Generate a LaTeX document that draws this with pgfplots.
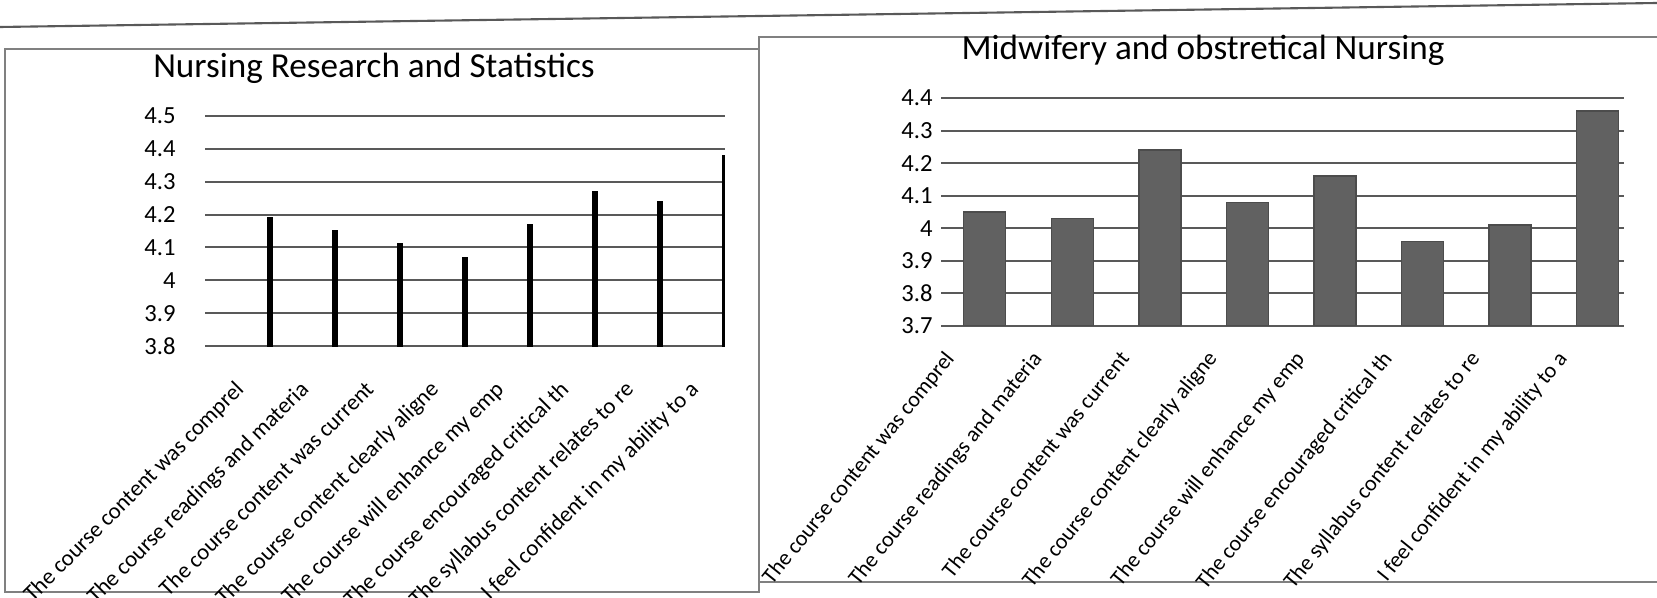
\documentclass[border=0pt]{standalone}
\usepackage{fontspec}
\setmainfont{Carlito}
\usepackage{pgfplots}
\pgfplotsset{compat=1.18}
\definecolor{gridc}{gray}{0.35}
\definecolor{framec}{gray}{0.5}
\definecolor{barc}{gray}{0.38}
\pgfplotsset{
  mystyle/.style={
    scale only axis,
    axis line style={draw=none},
    major tick length=0pt,
    ymajorgrids,
    grid style={gridc, line width=0.6pt},
    yticklabel style={font=\fontsize{7}{8}\selectfont},
    /pgf/number format/assume math mode=true,
    xtick={1,...,8},
    xticklabels={The course content was comprel,The course readings and materia,The course content was current,The course content clearly aligne,The course will enhance my emp,The course encouraged critical th,The syllabus content relates to re,I feel confident in my ability to a},
    clip=true,
  }
}
\begin{document}
\begin{tikzpicture}
\useasboundingbox (0,0) rectangle (16.57cm,-5.98cm);
\draw[gridc, line width=0.6pt] (0,-0.27cm) -- (16.57cm,-0.03cm);
\draw[framec, line width=0.5pt] (0.05cm,-0.49cm) rectangle (7.59cm,-5.92cm);
\draw[framec, line width=0.5pt] (16.57cm,-0.37cm) -- (7.59cm,-0.37cm) -- (7.59cm,-5.82cm) -- (16.57cm,-5.82cm);
\node[font=\fontsize{10}{12}\selectfont] at (3.74cm,-0.68cm) {Nursing Research and Statistics};
\node[font=\fontsize{10}{12}\selectfont] at (12.03cm,-0.50cm) {Midwifery and obstretical Nursing};
\begin{axis}[mystyle,
  at={(2.05cm,-3.46cm)}, anchor=south west,
  width=5.2cm, height=2.3cm,
  xmin=0, xmax=8, ymin=3.8, ymax=4.5,
  ytick={3.8,3.9,4.0,4.1,4.2,4.3,4.4,4.5},
  yticklabel style={xshift=-0.17cm},
  xticklabel style={font=\fontsize{6.5}{7}\selectfont, rotate=45, anchor=north east, xshift=-0.37cm, yshift=0.145cm},
  ybar, bar width=0.05cm]
\addplot[fill=black, draw=black, bar shift=0pt] coordinates {
(1,4.19) (2,4.15) (3,4.11) (4,4.07) (5,4.17) (6,4.27) (7,4.24) (8,4.38)};
\end{axis}
\begin{axis}[mystyle,
  at={(9.41cm,-3.26cm)}, anchor=south west,
  width=6.83cm, height=2.28cm,
  xmin=0.5, xmax=8.3, ymin=3.7, ymax=4.4,
  ytick={3.7,3.8,3.9,4.0,4.1,4.2,4.3,4.4},
  yticklabel style={xshift=0.04cm},
  xticklabel style={font=\fontsize{6.3}{7}\selectfont, rotate=51, anchor=north east, xshift=-0.32cm, yshift=0.30cm},
  ybar, bar width=0.42cm]
\addplot[fill=barc, draw=black!70, bar shift=0pt] coordinates {
(1,4.05) (2,4.03) (3,4.24) (4,4.08) (5,4.16) (6,3.96) (7,4.01) (8,4.36)};
\end{axis}
\end{tikzpicture}
\end{document}
